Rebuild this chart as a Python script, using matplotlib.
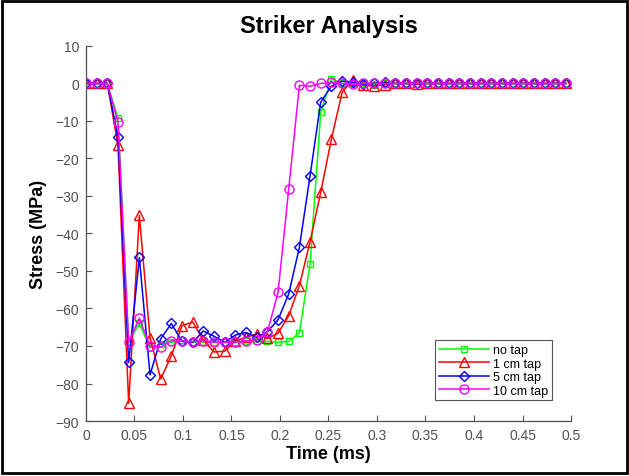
import numpy as np
import matplotlib
matplotlib.use('Agg')
import matplotlib.pyplot as plt
from matplotlib.patches import Rectangle

plt.rcParams['font.family'] = ['Liberation Sans', 'DejaVu Sans']

# time samples (ms)
time_ms = np.arange(46) * 0.011

no_tap = [0, 0, 0, -9.3, -69, -64, -70.5, -69.5, -69, -68.5,
          -69, -69, -69, -69, -69, -68.8, -68.8, -68.8, -69, -68.8,
          -66.5, -48.1, -7.7, 1.2, 0, -0.2, 0, -0.3, 0, 0,
          0, -0.2, 0, 0, 0, 0, 0, 0, 0, 0,
          0, 0, 0, 0, 0, 0]
tap_1cm = [0, 0, 0, -16.5, -85.3, -35.2, -67.8, -78.8, -72.6, -64.6,
           -63.6, -68.5, -71.6, -71.4, -68.6, -67.7, -66.8, -68, -66.6, -61.9,
           -53.9, -42.2, -29, -14.8, -2.4, 1, -0.5, -0.7, -0.3, 0,
           0, -0.2, 0, 0, 0, 0, 0, 0, 0, 0,
           0, 0, 0, 0, 0, 0]
tap_5cm = [0, 0, 0, -14.3, -74.4, -46.4, -77.7, -68.1, -64, -68.8,
           -69, -66, -67.4, -69, -67.1, -66.4, -67.7, -66.2, -63, -56.1,
           -43.7, -24.6, -5, -0.7, 0.6, 0.3, -0.2, 0, 0.3, 0,
           0, 0, 0, 0, 0, 0, 0, 0, 0, 0,
           0, 0, 0, 0, 0, 0]
tap_10cm = [0, 0, 0, -10.2, -69, -62.6, -70, -70.3, -68.6, -68.6,
            -68.9, -68.6, -69, -69, -69, -68.6, -68.4, -66.3, -55.7, -28.1,
            -0.5, -0.7, 0, 0.3, 0, -0.2, 0, 0, 0, 0,
            0, 0, 0, 0, 0, 0, 0, 0, 0, 0,
            0, 0, 0, 0, 0, 0]

labels = ['no tap', '1 cm tap', '5 cm tap', '10 cm tap']
colors = ['#00ff00', '#ff0000', '#0000ff', '#ff00ff']
markers = ['s', '^', 'D', 'o']
msizes = [5, 6.5, 5, 6.5]

axcol = '#505050'

fig = plt.figure(figsize=(6.29, 4.77), dpi=100)
ax = fig.add_axes([0.1367, 0.1153, 0.7711, 0.7862])

for y, lab, c, m, ms in zip([no_tap, tap_1cm, tap_5cm, tap_10cm], labels, colors, markers, msizes):
    ax.plot(time_ms, y, color=c, marker=m, markersize=ms, markerfacecolor='none',
            markeredgecolor=c, markeredgewidth=1.0, linewidth=1.1, label=lab)

ax.set_xlim(0, 0.5)
ax.set_ylim(-90, 10)
ax.set_xticks(np.arange(0, 0.51, 0.05))
ax.set_xticklabels(['0', '0.05', '0.1', '0.15', '0.2', '0.25', '0.3', '0.35', '0.4', '0.45', '0.5'])
ax.set_yticks(np.arange(-90, 11, 10))
ax.tick_params(direction='in', length=4, width=0.8, colors=axcol, labelsize=10, pad=5)
for s in ['top', 'right']:
    ax.spines[s].set_visible(False)
for s in ['left', 'bottom']:
    ax.spines[s].set_color(axcol)
    ax.spines[s].set_linewidth(0.9)

ax.set_title('Striker Analysis', fontsize=17, fontweight='bold', pad=10)
ax.set_xlabel('Time (ms)', fontsize=13, fontweight='bold', labelpad=2)
ax.set_ylabel('Stress (MPa)', fontsize=13, fontweight='bold', labelpad=6)

leg = ax.legend(loc='lower right', bbox_to_anchor=(0.96, 0.055), fontsize=9, fancybox=False,
                framealpha=1, edgecolor='#555555', handlelength=4.0, borderpad=0.3,
                labelspacing=0.12, handletextpad=0.3, borderaxespad=0)
leg.get_frame().set_linewidth(0.8)

# outer black frame of the image
fig.patches.append(Rectangle((0.003, 0.006), 0.994, 0.99, transform=fig.transFigure,
                             fill=False, edgecolor='black', linewidth=2))

fig.savefig('out.png', dpi=100)
